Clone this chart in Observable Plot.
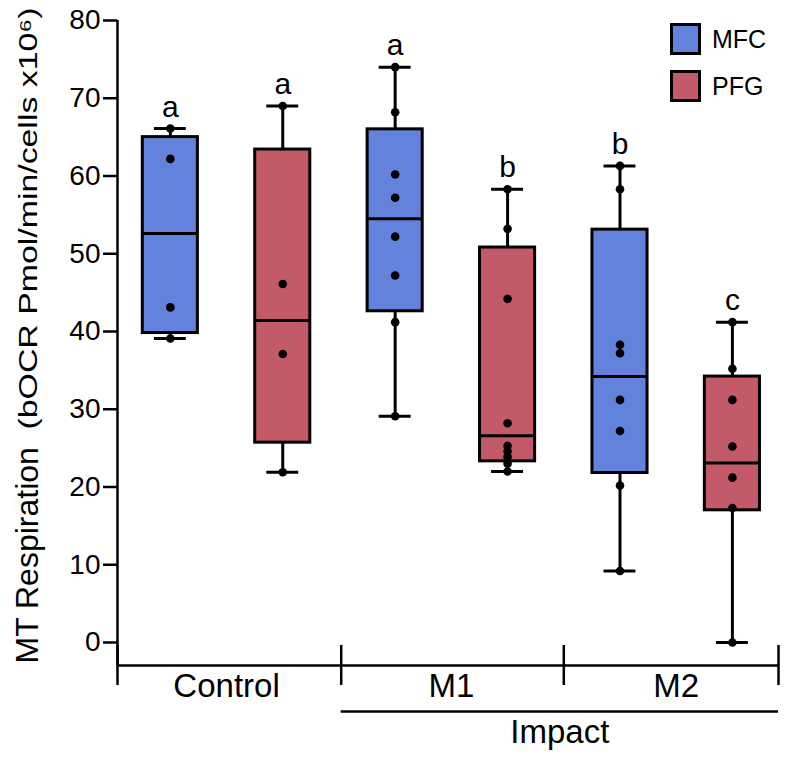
<!DOCTYPE html>
<html>
<head>
<meta charset="utf-8">
<script src="https://cdn.jsdelivr.net/npm/d3@7"></script>
<script src="https://cdn.jsdelivr.net/npm/@observablehq/plot@0.6"></script>
<style>
  body { margin: 0; background: #fff; font-family: "Liberation Sans", Arial, sans-serif; }
  #wrap { position: relative; width: 800px; height: 760px; }
  #legend { position: absolute; left: 670px; top: 23px; }
  .item { display: flex; align-items: center; height: 32px; margin-bottom: 15px; font-size: 25px; color: #000; }
  .sw { width: 31px; height: 32px; box-sizing: border-box; border: 3px solid #000; margin-right: 11px; }
</style>
</head>
<body>
<div id="wrap"><div id="chart"></div><div id="legend"></div></div>
<script>
// ---- data ----
const groups = ["Control", "M1", "M2"];
const treatments = ["MFC", "PFG"];
const colors = ["#6282db", "#c35a69"];
// box statistics, order: Control-MFC, Control-PFG, M1-MFC, M1-PFG, M2-MFC, M2-PFG
const whiskerLow  = [39.1, 21.9, 29.1, 22.0,  9.2,  0.0];
const q1          = [39.8, 25.7, 42.6, 23.3, 21.8, 17.0];
const median      = [52.6, 41.4, 54.5, 26.6, 34.2, 23.1];
const q3          = [65.0, 63.4, 66.0, 50.8, 53.1, 34.2];
const whiskerHigh = [66.1, 69.0, 74.0, 58.3, 61.3, 41.2];
const letters     = ["a", "a", "a", "b", "b", "c"];
const points = [
  [66.1, 62.2, 43.1, 39.1],
  [69.0, 46.1, 37.1, 21.9],
  [74.0, 68.2, 60.2, 57.2, 52.2, 47.2, 41.2, 29.1],
  [58.3, 53.2, 44.2, 28.2, 25.3, 24.6, 23.9, 23.0, 22.0],
  [61.3, 58.3, 38.3, 37.2, 31.2, 27.2, 20.2, 9.2],
  [41.2, 35.2, 31.2, 25.2, 21.2, 17.3, 0.0]
];
const yTicks = [0, 10, 20, 30, 40, 50, 60, 70, 80];
const superGroup = "Impact";
const yLabelMain = "MT Respiration";
const yLabelUnits = "(bOCR Pmol/min/cells x10\u2076)";

// ---- derived tables ----
const boxes = [];
groups.forEach((g, gi) => treatments.forEach((t, ti) => {
  const i = gi * 2 + ti;
  boxes.push({group: g, treatment: t, pos: i, wl: whiskerLow[i], q1: q1[i], med: median[i],
              q3: q3[i], wh: whiskerHigh[i], letter: letters[i]});
}));
const pts = boxes.flatMap((b, i) => points[i].map(v => ({pos: b.pos, treatment: b.treatment, value: v})));

const xMin = -0.47, xMax = 5.41, yMin = -2.96, yMax = 80;
const half = 0.245, capHalf = 0.142;
const seps = [xMin, 1.52, 3.5, xMax];
const groupCenters = groups.map((g, gi) => ({group: g, pos: gi * 2 + 0.5}));

const plot = Plot.plot({
  width: 800, height: 760,
  marginLeft: 117, marginRight: 22, marginTop: 20, marginBottom: 95,
  x: {domain: [xMin, xMax], axis: null},
  y: {domain: [yMin, yMax], axis: null},
  color: {domain: treatments, range: colors},
  style: {fontFamily: "Liberation Sans, Arial, sans-serif", background: "white", overflow: "visible", color: "black"},
  marks: [
    // whiskers
    Plot.ruleX(boxes, {x: "pos", y1: "wl", y2: "wh", stroke: "black", strokeWidth: 3}),
    Plot.ruleY(boxes, {y: "wl", x1: d => d.pos - capHalf, x2: d => d.pos + capHalf, stroke: "black", strokeWidth: 3}),
    Plot.ruleY(boxes, {y: "wh", x1: d => d.pos - capHalf, x2: d => d.pos + capHalf, stroke: "black", strokeWidth: 3}),
    // boxes
    Plot.rect(boxes, {x1: d => d.pos - half, x2: d => d.pos + half, y1: "q1", y2: "q3", fill: "treatment", stroke: "black", strokeWidth: 3}),
    Plot.ruleY(boxes, {y: "med", x1: d => d.pos - half, x2: d => d.pos + half, stroke: "black", strokeWidth: 3}),
    // points
    Plot.dot(pts, {x: "pos", y: "value", r: 4.3, fill: "black", stroke: null}),
    // significance letters
    Plot.text(boxes, {x: "pos", y: "wh", text: "letter", dy: -12, lineAnchor: "bottom", fontSize: 30}),
    // y axis
    Plot.ruleX([xMin], {y1: yMin, y2: yMax, stroke: "black", strokeWidth: 2.5}),
    Plot.axisY(yTicks, {anchor: "left", tickSize: 14, tickPadding: 3, fontSize: 28, strokeWidth: 2.5, label: null}),
    // x axis
    Plot.ruleY([yMin], {x1: xMin, x2: xMax, stroke: "black", strokeWidth: 2.5}),
    Plot.ruleX(seps, {x: d => d, y1: yMin, y2: yMin, insetTop: -20, insetBottom: -20, stroke: "black", strokeWidth: 2.5}),
    Plot.text(groupCenters, {x: "pos", y: () => yMin, text: "group", lineAnchor: "top", dy: 8, fontSize: 33}),
    Plot.ruleY([yMin], {x1: seps[1], x2: seps[3], dy: 46, stroke: "black", strokeWidth: 2.5}),
    Plot.text([superGroup], {x: (seps[1] + seps[3]) / 2, y: yMin, text: d => d, lineAnchor: "top", dy: 54, fontSize: 33}),
    // y label
    Plot.text([yLabelMain], {x: xMin, y: yMin, text: d => d, rotate: -90, textAnchor: "start", lineAnchor: "middle", dx: -90, dy: -2, fontSize: 32}),
    Plot.text([yLabelUnits], {x: xMin, y: yMin, text: d => d, rotate: -90, textAnchor: "start", lineAnchor: "middle", dx: -89, dy: -236, fontSize: 25})
  ]
});
plot.querySelectorAll("text").forEach(t => {
  if (t.textContent === yLabelUnits) {
    t.setAttribute("textLength", 422);
    t.setAttribute("lengthAdjust", "spacingAndGlyphs");
  }
});
document.getElementById("chart").appendChild(plot);

// legend
const legend = document.getElementById("legend");
treatments.forEach((t, i) => {
  const item = document.createElement("div");
  item.className = "item";
  const sw = document.createElement("div");
  sw.className = "sw";
  sw.style.background = colors[i];
  const lab = document.createElement("span");
  lab.textContent = t;
  item.appendChild(sw); item.appendChild(lab);
  legend.appendChild(item);
});
</script>
</body>
</html>
